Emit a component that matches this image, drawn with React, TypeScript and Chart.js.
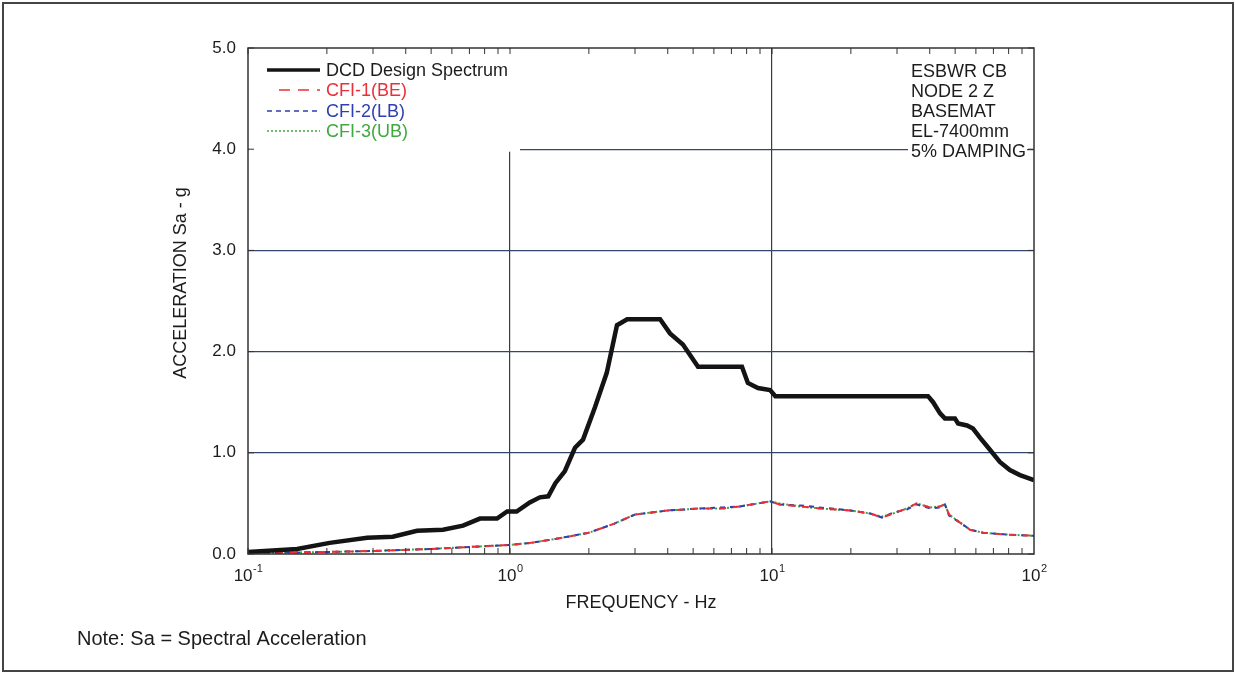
import React, { useEffect, useRef } from "react";
import { Chart, registerables } from "chart.js";

Chart.register(...registerables);

// ---------- data ----------
const dcdFreq = [0.1, 0.154, 0.205, 0.285, 0.357, 0.442, 0.555, 0.662, 0.768, 0.892, 0.975, 1.06, 1.19, 1.3, 1.4, 1.49, 1.62, 1.77, 1.9, 2.11, 2.34, 2.56, 2.8, 3.74, 4.08, 4.57, 5.22, 7.68, 8.09, 8.84, 9.83, 10.3, 39.4, 41.2, 43.8, 45.7, 49.9, 51.3, 55.5, 58.5, 62.2, 67.9, 74.1, 80.9, 88.4, 100];
const dcdSa = [0.02, 0.05, 0.11, 0.16, 0.17, 0.23, 0.24, 0.28, 0.35, 0.35, 0.42, 0.42, 0.51, 0.56, 0.57, 0.7, 0.82, 1.05, 1.13, 1.45, 1.79, 2.26, 2.32, 2.32, 2.18, 2.07, 1.85, 1.85, 1.69, 1.64, 1.62, 1.56, 1.56, 1.5, 1.39, 1.34, 1.34, 1.29, 1.27, 1.24, 1.15, 1.03, 0.91, 0.83, 0.78, 0.73];

const cfiFreq = [0.1, 0.15, 0.2, 0.3, 0.5, 0.7, 1.0, 1.2, 1.5, 2.0, 2.5, 3.0, 4.0, 5.31, 6.5, 7.55, 9.83, 10.7, 12.8, 15.2, 19.9, 23.7, 26.3, 29.0, 32.7, 35.7, 40.1, 43.7, 45.7, 47.4, 52.2, 57.0, 63.9, 80.9, 100];
const cfi1Sa = [0.01, 0.015, 0.02, 0.03, 0.05, 0.07, 0.09, 0.11, 0.15, 0.21, 0.3, 0.39, 0.43, 0.45, 0.45, 0.47, 0.52, 0.49, 0.47, 0.45, 0.43, 0.4, 0.36, 0.4, 0.45, 0.5, 0.46, 0.47, 0.49, 0.39, 0.31, 0.24, 0.21, 0.19, 0.18];
const cfi2Sa = [0.01, 0.015, 0.02, 0.03, 0.05, 0.07, 0.09, 0.11, 0.15, 0.21, 0.3, 0.39, 0.43, 0.45, 0.46, 0.47, 0.52, 0.49, 0.48, 0.46, 0.43, 0.4, 0.36, 0.41, 0.44, 0.49, 0.45, 0.46, 0.49, 0.38, 0.31, 0.24, 0.21, 0.19, 0.18];
const cfi3Sa = [0.01, 0.015, 0.02, 0.03, 0.05, 0.07, 0.09, 0.11, 0.15, 0.21, 0.3, 0.39, 0.43, 0.45, 0.45, 0.47, 0.52, 0.5, 0.47, 0.45, 0.43, 0.4, 0.37, 0.4, 0.45, 0.5, 0.46, 0.47, 0.49, 0.39, 0.31, 0.24, 0.21, 0.19, 0.18];

const yTickValues = [0, 1, 2, 3, 4, 5];
const xDecades = [0.1, 1, 10, 100];
const xTickBase = ["10", "10", "10", "10"];
const xTickExp = ["-1", "0", "1", "2"];

const seriesLabels = ["DCD Design Spectrum", "CFI-1(BE)", "CFI-2(LB)", "CFI-3(UB)"];
const seriesColors = ["#141414", "#e8303a", "#2f3fb0", "#3fa83f"];
const infoLines = ["ESBWR CB", "NODE 2 Z", "BASEMAT", "EL-7400mm", "5% DAMPING"];
const xTitle = "FREQUENCY - Hz";
const yTitle = "ACCELERATION Sa - g";
const noteText = "Note: Sa = Spectral Acceleration";

const FONT = '"Liberation Sans", Arial, Helvetica, sans-serif';
const TEXT = "#1c1c1c";

function pts(xs: number[], ys: number[]) {
  return xs.map((x, i) => ({ x, y: ys[i] }));
}

const isDecade = (v: number) => {
  const l = Math.log10(v);
  return Math.abs(l - Math.round(l)) < 1e-6;
};

const overlayPlugin = {
  id: "overlay",
  beforeDatasetsDraw(chart: any) {
    const { ctx, chartArea: a, scales } = chart;
    const y4 = scales.y.getPixelForValue(4);
    const x1 = scales.x.getPixelForValue(1);
    ctx.save();
    ctx.fillStyle = "#ffffff";
    // legend box background
    ctx.fillRect(a.left + 1, a.top + 1, x1 + 9 - a.left, y4 + 1.5 - a.top);
    // info box background
    ctx.fillRect(908, a.top + 1, a.right - 7 - 908, y4 + 1.5 - a.top);
    ctx.restore();
  },
  afterDraw(chart: any) {
    const { ctx, chartArea: a, scales } = chart;
    const xs = scales.x;
    const ys = scales.y;
    ctx.save();

    // plot frame
    ctx.strokeStyle = "#333";
    ctx.lineWidth = 1.5;
    ctx.strokeRect(a.left, a.top, a.right - a.left, a.bottom - a.top);

    // x minor/major ticks (inside, top & bottom)
    ctx.lineWidth = 1;
    ctx.strokeStyle = "#333";
    ctx.beginPath();
    for (let d = 0; d < xDecades.length - 1; d++) {
      for (let k = 1; k <= 9; k++) {
        const px = xs.getPixelForValue(xDecades[d] * k);
        ctx.moveTo(px, a.bottom);
        ctx.lineTo(px, a.bottom - 6);
        ctx.moveTo(px, a.top);
        ctx.lineTo(px, a.top + 6);
      }
    }
    // y ticks (inside, left & right)
    yTickValues.forEach((v) => {
      const py = ys.getPixelForValue(v);
      ctx.moveTo(a.left, py);
      ctx.lineTo(a.left + 6, py);
      ctx.moveTo(a.right, py);
      ctx.lineTo(a.right - 6, py);
    });
    ctx.stroke();

    // x tick labels with superscripts
    ctx.fillStyle = TEXT;
    ctx.textBaseline = "alphabetic";
    ctx.textAlign = "left";
    xDecades.forEach((v, i) => {
      const px = xs.getPixelForValue(v);
      ctx.font = `17px ${FONT}`;
      const wb = ctx.measureText(xTickBase[i]).width;
      ctx.font = `11px ${FONT}`;
      const we = ctx.measureText(xTickExp[i]).width;
      const start = px - (wb + we) / 2;
      ctx.font = `17px ${FONT}`;
      ctx.fillText(xTickBase[i], start, 581);
      ctx.font = `11px ${FONT}`;
      ctx.fillText(xTickExp[i], start + wb + 0.5, 572);
    });

    // axis titles
    ctx.font = `18px ${FONT}`;
    ctx.textAlign = "center";
    ctx.textBaseline = "middle";
    ctx.fillText(xTitle, (a.left + a.right) / 2, 603);
    ctx.save();
    ctx.translate(181, 283);
    ctx.rotate(-Math.PI / 2);
    ctx.fillText(yTitle, 0, 0);
    ctx.restore();

    // legend
    const legY = [70, 90, 111, 131];
    const dashes = [[], [11, 8], [5, 4], [2, 2]];
    const widths = [3.5, 1.5, 1.5, 1.5];
    seriesLabels.forEach((lab, i) => {
      ctx.save();
      ctx.strokeStyle = seriesColors[i];
      ctx.lineWidth = widths[i];
      ctx.setLineDash(dashes[i]);
      ctx.beginPath();
      const x0 = i === 1 ? 279 : 267;
      ctx.moveTo(x0, legY[i]);
      ctx.lineTo(320, legY[i]);
      ctx.stroke();
      ctx.restore();
      ctx.fillStyle = i === 0 ? TEXT : seriesColors[i];
      ctx.font = `18px ${FONT}`;
      ctx.textAlign = "left";
      ctx.textBaseline = "middle";
      ctx.fillText(lab, 326, legY[i] + 1);
    });

    // info text
    ctx.fillStyle = TEXT;
    ctx.font = `18px ${FONT}`;
    ctx.textAlign = "left";
    ctx.textBaseline = "middle";
    infoLines.forEach((t, i) => {
      ctx.fillText(t, 911, 72 + i * 20);
    });

    // note
    ctx.font = `20px ${FONT}`;
    ctx.textBaseline = "alphabetic";
    ctx.fillText(noteText, 77, 645);

    // outer frame
    ctx.strokeStyle = "#444";
    ctx.lineWidth = 2;
    ctx.strokeRect(3, 3, 1230, 668);

    ctx.restore();
  },
};

export default function App() {
  const ref = useRef<HTMLCanvasElement | null>(null);

  useEffect(() => {
    if (!ref.current) return;
    const chart = new Chart(ref.current, {
      type: "line",
      data: {
        datasets: [
          {
            label: seriesLabels[0],
            data: pts(dcdFreq, dcdSa),
            borderColor: seriesColors[0],
            borderWidth: 4.5,
            pointRadius: 0,
            tension: 0,
          },
          {
            label: seriesLabels[1],
            data: pts(cfiFreq, cfi1Sa),
            borderColor: seriesColors[1],
            borderWidth: 2,
            borderDash: [7, 7],
            pointRadius: 0,
            tension: 0,
          },
          {
            label: seriesLabels[2],
            data: pts(cfiFreq, cfi2Sa),
            borderColor: seriesColors[2],
            borderWidth: 2,
            borderDash: [5, 5],
            borderDashOffset: 3,
            pointRadius: 0,
            tension: 0,
          },
          {
            label: seriesLabels[3],
            data: pts(cfiFreq, cfi3Sa),
            borderColor: seriesColors[3],
            borderWidth: 2,
            borderDash: [2, 2],
            pointRadius: 0,
            tension: 0,
          },
        ],
      },
      options: {
        animation: false,
        responsive: true,
        maintainAspectRatio: false,
        layout: { padding: { top: 48, right: 202, left: 0, bottom: 0 } },
        plugins: {
          legend: { display: false },
          tooltip: { enabled: false },
          title: { display: false },
        },
        scales: {
          x: {
            type: "logarithmic",
            min: 0.1,
            max: 100,
            afterFit: (s: any) => {
              s.height = 122;
            },
            ticks: { display: false },
            border: { display: false },
            grid: {
              drawTicks: false,
              lineWidth: 1.2,
              color: (c: any) => {
                const v = c.tick ? c.tick.value : 0;
                if (!isDecade(v) || v <= 0.1 + 1e-9 || v >= 100 - 1e-9) return "rgba(0,0,0,0)";
                return "#3a3a3a";
              },
            },
          },
          y: {
            type: "linear",
            min: 0,
            max: 5,
            afterFit: (s: any) => {
              s.width = 248;
            },
            ticks: {
              stepSize: 1,
              padding: 12,
              color: TEXT,
              font: { family: FONT, size: 17 },
              callback: (v: any) => Number(v).toFixed(1),
            },
            border: { display: false },
            grid: {
              drawTicks: false,
              lineWidth: 1.2,
              color: (c: any) => {
                const v = c.tick ? c.tick.value : 0;
                if (v <= 0 || v >= 5) return "rgba(0,0,0,0)";
                return "#33466e";
              },
            },
          },
        },
      },
      plugins: [overlayPlugin],
    });
    return () => chart.destroy();
  }, []);

  return (
    <div
      style={{
        position: "fixed",
        left: 0,
        top: 0,
        width: 1236,
        height: 676,
        background: "#fff",
      }}
    >
      <canvas ref={ref} />
    </div>
  );
}
